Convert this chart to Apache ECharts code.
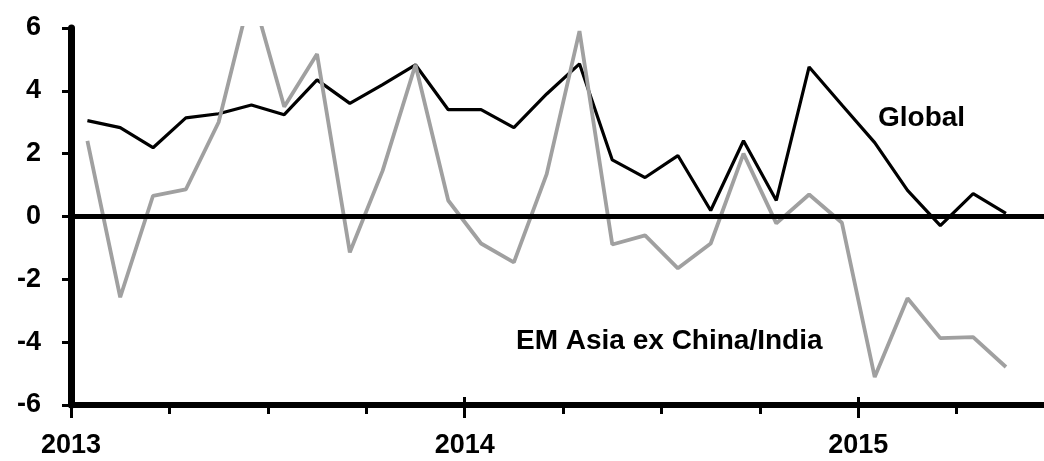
<!DOCTYPE html>
<html><head><meta charset="utf-8">
<script src="https://cdn.jsdelivr.net/npm/echarts@6/dist/echarts.min.js"></script>
<style>html,body{margin:0;padding:0;background:#fff}#c{width:1044px;height:461px}</style>
</head><body><div id="c"></div>
<script>
const months = ['2013-01','2013-02','2013-03','2013-04','2013-05','2013-06','2013-07','2013-08','2013-09','2013-10','2013-11','2013-12',
  '2014-01','2014-02','2014-03','2014-04','2014-05','2014-06','2014-07','2014-08','2014-09','2014-10','2014-11','2014-12',
  '2015-01','2015-02','2015-03','2015-04','2015-05'];
const globalVals = [3.05,2.83,2.19,3.14,3.27,3.55,3.24,4.35,3.6,4.2,4.83,3.4,3.4,2.83,3.9,4.86,1.8,1.24,1.94,0.19,2.41,0.51,4.76,3.55,2.35,0.83,-0.29,0.73,0.1];
const emAsiaVals = [2.41,-2.57,0.66,0.86,3.0,7.2,3.49,5.17,-1.14,1.46,4.83,0.51,-0.86,-1.46,1.35,5.9,-0.89,-0.6,-1.65,-0.86,2.0,-0.22,0.7,-0.2,-5.11,-2.6,-3.87,-3.84,-4.79];
const yearLabels = ['2013','2014','2015'];
const quarterTicks = [0,3,6,9,12,15,18,21,24,27];   // months since Jan 2013
const yearTicks = [0,12,24];
const yTicks = [-6,-4,-2,0,2,4,6];
const seriesNames = ['Global','EM Asia ex China/India'];

const FONT = "'Liberation Sans', Arial, sans-serif";
function mx(s){const [y,m]=s.split('-').map(Number);return (y-2013)*12+(m-1)+0.5;}
const gData = months.map((m,i)=>[mx(m),globalVals[i]]);
const eData = months.map((m,i)=>[mx(m),emAsiaVals[i]]);
const XMAX = 29.66;

const chart = echarts.init(document.getElementById('c'));
const baseX = {type:'value',min:0,max:XMAX,position:'bottom',splitLine:{show:false}};
chart.setOption({
  animation:false,
  backgroundColor:'#fff',
  grid:{left:71,top:28,right:0,bottom:56,containLabel:false},
  xAxis:[
    Object.assign({},baseX,{
      axisLine:{show:true,onZero:false,lineStyle:{color:'#000',width:6}},
      axisTick:{show:true,length:9,customValues:quarterTicks,lineStyle:{color:'#000',width:3}},
      axisLabel:{show:true,margin:27,color:'#000',fontSize:27,fontWeight:'bold',fontFamily:FONT,
        customValues:yearTicks,formatter:v=>yearLabels[Math.round(v/12)]||''}}),
    Object.assign({},baseX,{axisLine:{show:false,onZero:false},
      axisTick:{show:true,inside:true,length:8,customValues:yearTicks,lineStyle:{color:'#000',width:3}},axisLabel:{show:false}}),
    Object.assign({},baseX,{axisLine:{show:false,onZero:false},
      axisTick:{show:true,length:13,customValues:yearTicks,lineStyle:{color:'#000',width:3}},axisLabel:{show:false}})
  ],
  yAxis:{type:'value',min:-6,max:6,interval:2,position:'left',
    axisLine:{show:true,onZero:false,lineStyle:{color:'#000',width:7}},
    axisTick:{show:true,length:9,customValues:yTicks,lineStyle:{color:'#000',width:3}},
    splitLine:{show:false},
    axisLabel:{margin:30,color:'#000',fontSize:27,fontWeight:'bold',fontFamily:FONT,customValues:yTicks}},
  series:[
    {name:seriesNames[0],type:'line',data:gData,symbol:'none',clip:true,z:3,
      lineStyle:{color:'#000',width:3.2},
      markLine:{silent:true,symbol:'none',label:{show:false},
        lineStyle:{color:'#000',width:5,type:'solid'},data:[{yAxis:0}]}},
    {name:seriesNames[1],type:'line',data:eData,symbol:'none',clip:true,z:4,
      lineStyle:{color:'#a0a0a0',width:3.8}}
  ],
  graphic:[
    {type:'text',left:878,top:104,style:{text:seriesNames[0],fill:'#000',font:"bold 28px "+FONT}},
    {type:'text',left:516,top:327,style:{text:seriesNames[1],fill:'#000',font:"bold 28px "+FONT}}
  ]
});
</script></body></html>
